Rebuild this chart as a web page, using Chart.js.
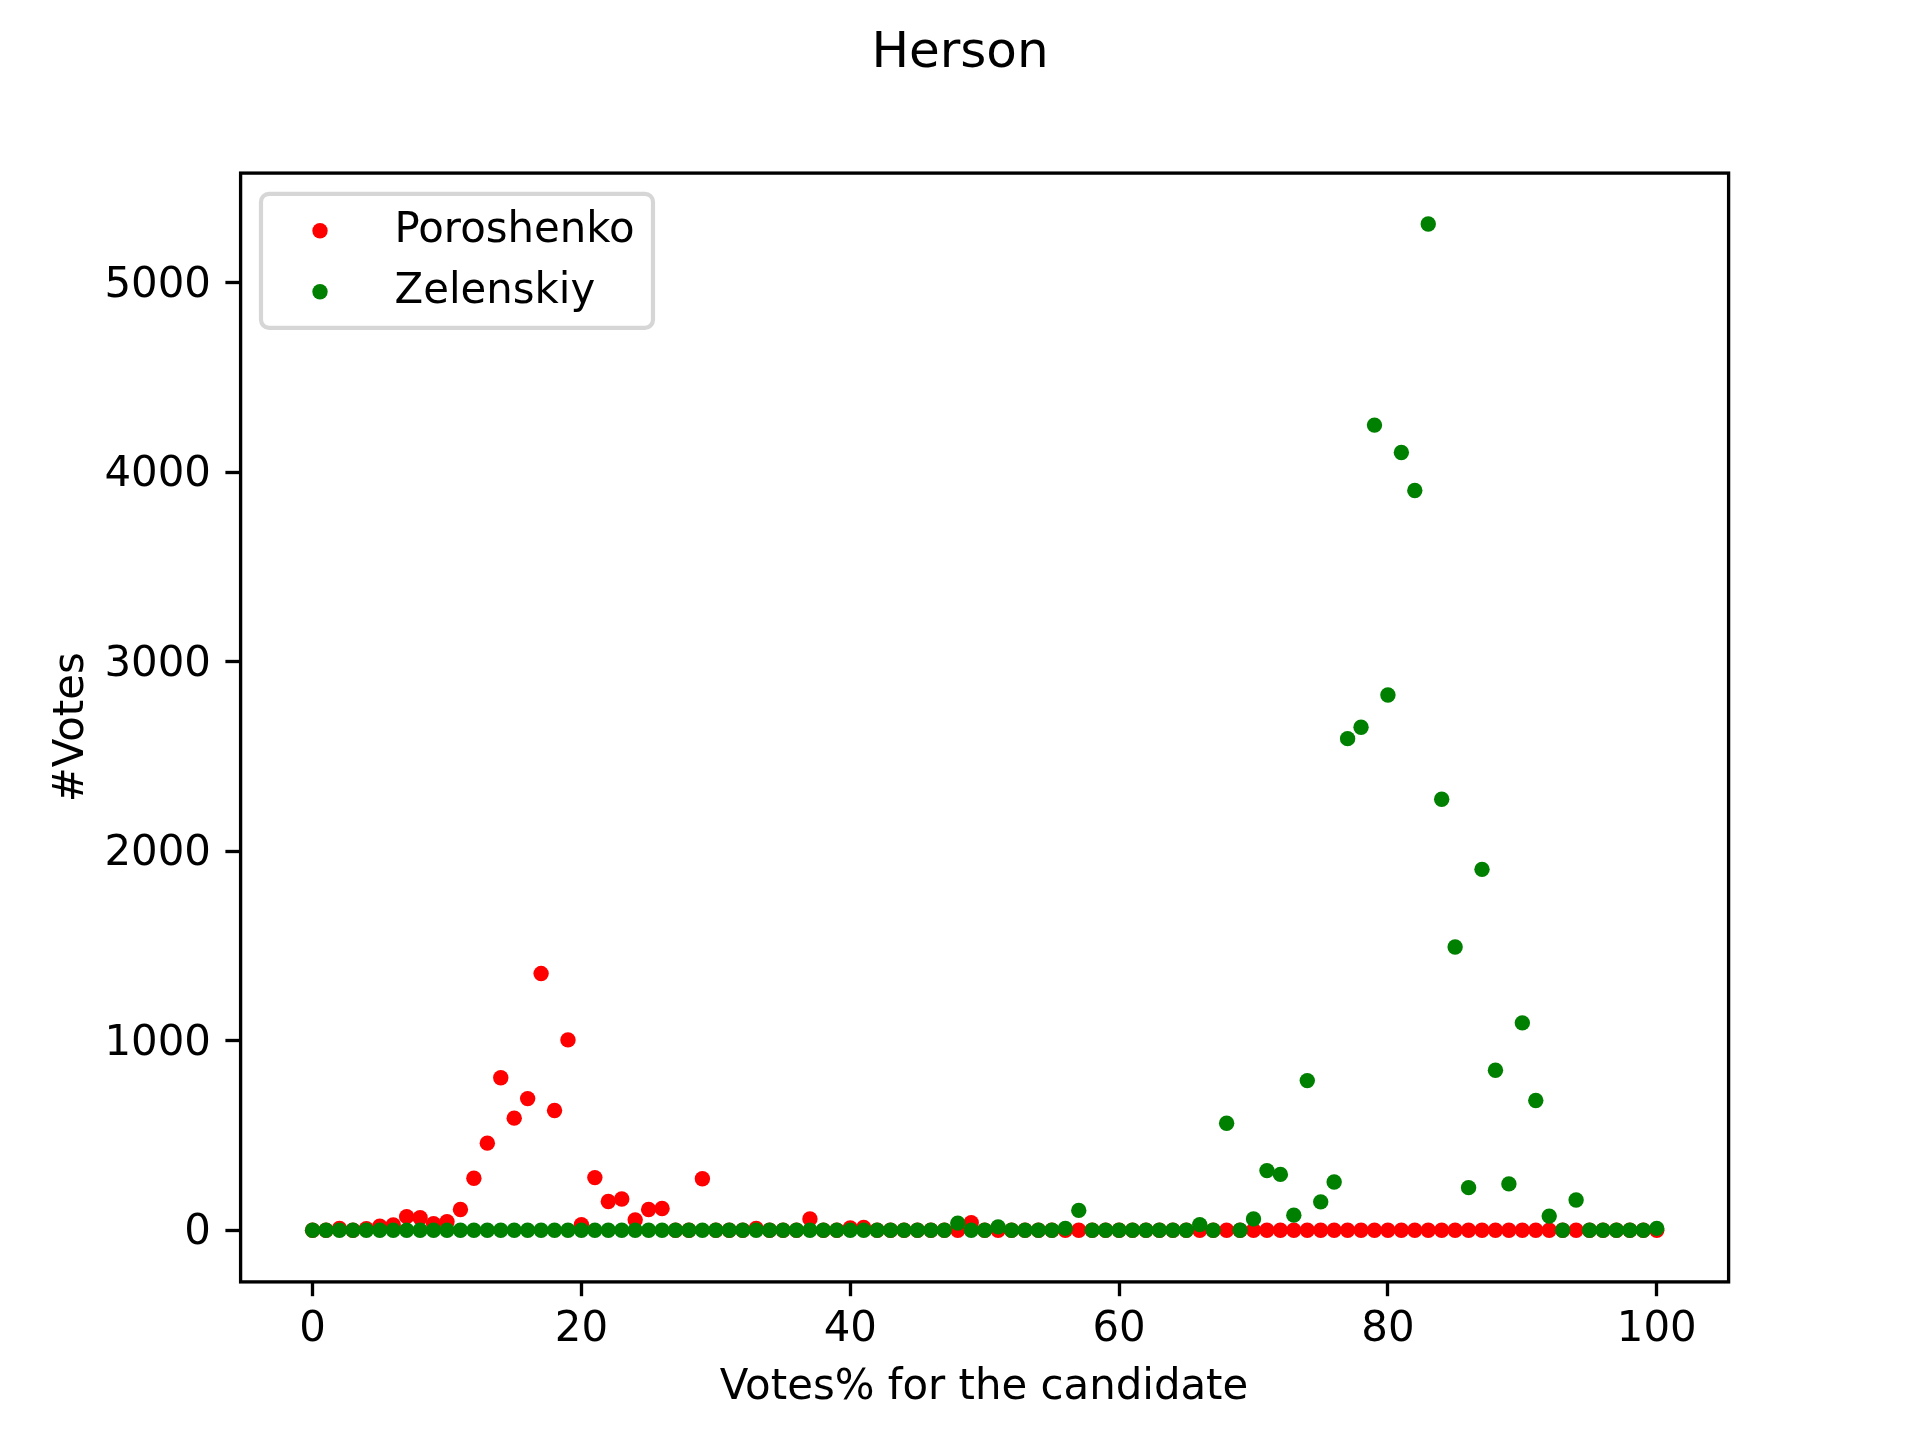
<!DOCTYPE html>
<html>
<head>
<meta charset="utf-8">
<title>Herson</title>
<script src="https://cdn.jsdelivr.net/npm/chart.js@4"></script>
<style>
html,body{margin:0;padding:0;background:#fff}
canvas{display:block}
</style>
</head>
<body>
<canvas id="c" width="1920" height="1440"></canvas>
<script>
const titleText = "Herson";
const xLabel = "Votes% for the candidate";
const yLabel = "#Votes";
const xTicks = [0, 20, 40, 60, 80, 100];
const yTicks = [0, 1000, 2000, 3000, 4000, 5000];
const percents = [
  0,1,2,3,4,5,6,7,8,9,
  10,11,12,13,14,15,16,17,18,19,
  20,21,22,23,24,25,26,27,28,29,
  30,31,32,33,34,35,36,37,38,39,
  40,41,42,43,44,45,46,47,48,49,
  50,51,52,53,54,55,56,57,58,59,
  60,61,62,63,64,65,66,67,68,69,
  70,71,72,73,74,75,76,77,78,79,
  80,81,82,83,84,85,86,87,88,89,
  90,91,92,93,94,95,96,97,98,99,
  100
];
const poroshenko = [
  0,0,10,0,8,22,28,72,66,35,
  45,110,275,460,805,592,695,1355,632,1005,
  30,278,152,165,55,110,115,0,0,272,
  0,0,0,10,0,0,0,60,0,0,
  12,15,0,0,0,0,0,0,0,40,
  0,0,0,0,0,0,0,0,0,0,
  0,0,0,0,0,0,0,0,0,0,
  0,0,0,0,0,0,0,0,0,0,
  0,0,0,0,0,0,0,0,0,0,
  0,0,0,0,0,0,0,0,0,0,
  0
];
const zelenskiy = [
  0,0,0,0,0,0,0,0,0,0,
  0,0,0,0,0,0,0,0,0,0,
  0,0,0,0,0,0,0,0,0,0,
  0,0,0,0,0,0,0,0,0,0,
  0,0,0,0,0,0,0,0,38,0,
  0,18,0,0,0,0,10,105,0,0,
  0,0,0,0,0,0,30,0,565,0,
  60,315,295,80,790,150,255,2595,2655,4250,
  2825,4105,3905,5311,2275,1495,225,1905,845,245,
  1095,685,75,0,160,0,0,0,0,0,
  10
];

const FONT = '"DejaVu Sans"';
const TEXT_PX = 41.85;

const framePlugin = {
  id: 'frameAndLegend',
  afterDraw(chart) {
    const {ctx, chartArea: a} = chart;
    ctx.save();
    ctx.strokeStyle = '#000';
    ctx.lineWidth = 3.33;
    ctx.lineCap = 'square';
    ctx.strokeRect(a.left + 0.6, a.top + 0.3, a.right - a.left, a.bottom - a.top);
    // legend box, in matplotlib's style, inside the axes
    const bx = a.left + 21, by = a.top + 21, bw = 392, bh = 134;
    ctx.beginPath();
    ctx.roundRect(bx, by, bw, bh, 8);
    ctx.fillStyle = 'rgba(255,255,255,0.8)';
    ctx.fill();
    ctx.lineWidth = 4.17;
    ctx.strokeStyle = 'rgba(204,204,204,0.8)';
    ctx.stroke();
    ctx.font = TEXT_PX + 'px ' + FONT;
    ctx.textBaseline = 'alphabetic';
    ctx.textAlign = 'left';
    chart.data.datasets.forEach((d, i) => {
      const cy = by + 37 + i * 61;
      ctx.beginPath();
      ctx.arc(bx + 59, cy, 7.7, 0, Math.PI * 2);
      ctx.fillStyle = d.backgroundColor;
      ctx.fill();
      ctx.fillStyle = '#000';
      ctx.fillText(d.label, bx + 133.5, cy + 11);
    });
    ctx.restore();
  }
};

function fixedTicks(list) {
  return scale => { scale.ticks = list.map(v => ({value: v})); };
}

new Chart(document.getElementById('c'), {
  type: 'scatter',
  data: {
    datasets: [
      {label: 'Poroshenko', order: 2, data: percents.map((x, i) => ({x, y: poroshenko[i]})), backgroundColor: '#ff0000'},
      {label: 'Zelenskiy', order: 1, data: percents.map((x, i) => ({x, y: zelenskiy[i]})), backgroundColor: '#008000'}
    ]
  },
  options: {
    responsive: false,
    animation: false,
    devicePixelRatio: 1,
    layout: {padding: 0},
    elements: {point: {radius: 7.7, borderWidth: 0, hoverRadius: 7.7}},
    plugins: {
      legend: {display: false},
      tooltip: {enabled: false},
      title: {
        display: true,
        text: titleText,
        color: '#000',
        font: {family: FONT, size: 50, weight: 'normal', lineHeight: 1.2},
        padding: {top: 24.5, bottom: 88.3}
      }
    },
    scales: {
      x: {
        type: 'linear',
        min: -5.4,
        max: 105.3,
        afterBuildTicks: fixedTicks(xTicks),
        afterFit: s => { s.height = 158.4; },
        grid: {drawOnChartArea: false, drawTicks: true, tickLength: 14.6, tickWidth: 3.33, tickColor: '#000'},
        border: {display: false},
        ticks: {color: '#000', font: {family: FONT, size: TEXT_PX}, padding: 9, maxRotation: 0, autoSkip: false, includeBounds: false},
        title: {display: true, text: xLabel, color: '#000', font: {family: FONT, size: TEXT_PX, lineHeight: 1.2}, padding: {top: 0, bottom: 26.5}}
      },
      y: {
        type: 'linear',
        min: -270.8,
        max: 5581.6,
        afterBuildTicks: fixedTicks(yTicks),
        afterFit: s => { s.width = 240; },
        grid: {drawOnChartArea: false, drawTicks: true, tickLength: 14.6, tickWidth: 3.33, tickColor: '#000'},
        border: {display: false},
        ticks: {color: '#000', font: {family: FONT, size: TEXT_PX}, padding: 14.5, labelOffset: 3, autoSkip: false, includeBounds: false, callback: v => String(v)},
        title: {display: true, text: yLabel, color: '#000', font: {family: FONT, size: TEXT_PX, lineHeight: 1.2}, padding: {top: 47, bottom: 0}}
      },
      // empty right-hand margin, so the figure title stays centred on the whole canvas
      margin: {
        type: 'linear',
        position: 'right',
        afterFit: s => { s.width = 192; },
        grid: {display: false},
        border: {display: false},
        ticks: {display: false},
        title: {display: false}
      }
    }
  },
  plugins: [framePlugin]
});
</script>
</body>
</html>
